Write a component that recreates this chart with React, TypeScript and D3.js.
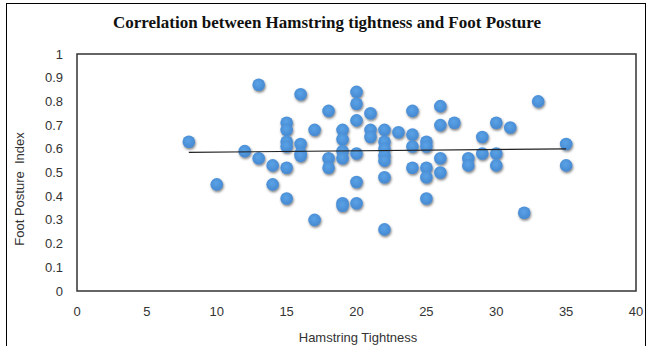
import React from "react";
import * as d3 from "d3";

const hamstring: number[] = [
  8, 10, 12, 13, 13, 14, 14,
  15, 15, 15, 15, 15, 15,
  16, 16, 16, 16,
  17, 17, 18, 18, 18,
  19, 19, 19, 19, 19, 19,
  20, 20, 20, 20, 20, 20,
  21, 21, 21,
  22, 22, 22, 22, 22, 22, 22,
  23, 24, 24, 24, 24,
  25, 25, 25, 25, 25,
  26, 26, 26, 26, 27, 28, 28, 29, 29,
  30, 30, 30, 31, 32, 33, 35, 35,
];
const footPosture: number[] = [
  0.63, 0.45, 0.59, 0.87, 0.56, 0.53, 0.45,
  0.71, 0.68, 0.63, 0.61, 0.52, 0.39,
  0.83, 0.62, 0.58, 0.57,
  0.68, 0.3, 0.76, 0.56, 0.52,
  0.68, 0.64, 0.59, 0.56, 0.37, 0.36,
  0.84, 0.79, 0.72, 0.58, 0.46, 0.37,
  0.75, 0.68, 0.65,
  0.68, 0.63, 0.6, 0.57, 0.55, 0.48, 0.26,
  0.67, 0.76, 0.66, 0.61, 0.52,
  0.63, 0.61, 0.52, 0.48, 0.39,
  0.78, 0.7, 0.56, 0.5, 0.71, 0.56, 0.53, 0.65, 0.58,
  0.71, 0.58, 0.53, 0.69, 0.33, 0.8, 0.62, 0.53,
];
const xTicks: number[] = [0, 5, 10, 15, 20, 25, 30, 35, 40];
const yTicks: number[] = [0, 0.1, 0.2, 0.3, 0.4, 0.5, 0.6, 0.7, 0.8, 0.9, 1];
const title = "Correlation between Hamstring tightness and Foot Posture";
const xTitle = "Hamstring Tightness";
const yTitle = "Foot Posture\u00a0 Index";

export default function App() {
  const W = 648, H = 346;
  const left = 77, right = 636, top = 54, bottom = 291;
  const x = d3.scaleLinear().domain([0, 40]).range([left, right]);
  const y = d3.scaleLinear().domain([0, 1]).range([bottom, top]);

  const pts = hamstring.map((h, i) => [h, footPosture[i]] as [number, number]);
  const mx = d3.mean(hamstring)!;
  const my = d3.mean(footPosture)!;
  let sxy = 0, sxx = 0;
  pts.forEach(([a, b]) => { sxy += (a - mx) * (b - my); sxx += (a - mx) * (a - mx); });
  const slope = sxy / sxx;
  const icpt = my - slope * mx;
  const [x0, x1] = d3.extent(hamstring) as [number, number];

  const font = "'Liberation Sans', Arial, sans-serif";
  const fs = 13;

  return (
    <svg width={W} height={H} style={{ position: "absolute", left: 0, top: 0, background: "#fff" }}>
      <defs>
        <filter id="shadow" x="-50%" y="-50%" width="200%" height="200%">
          <feDropShadow dx="0.8" dy="1.6" stdDeviation="1.1" floodColor="#333" floodOpacity="0.6" />
        </filter>
        <radialGradient id="gloss" cx="45%" cy="40%" r="60%">
          <stop offset="0%" stopColor="#5aa2e6" />
          <stop offset="100%" stopColor="#4689d1" />
        </radialGradient>
      </defs>
      <rect x={0} y={0} width={W} height={H} fill="#fff" />
      <rect x={6.5} y={3.5} width={639} height={360} fill="none" stroke="#000" strokeWidth={1} />
      <text x={327} y={28} textAnchor="middle" fontFamily="'Liberation Serif', 'Times New Roman', serif"
        fontWeight="bold" fontSize={17} fill="#111">{title}</text>
      <rect x={left} y={top} width={right - left} height={bottom - top} fill="none" stroke="#333" strokeWidth={1.5} />
      {yTicks.map((t) => (
        <text key={"y" + t} x={63} y={y(t) + 4.5} textAnchor="end" fontFamily={font} fontSize={fs} fill="#333">
          {d3.format("~g")(t)}
        </text>
      ))}
      {xTicks.map((t) => (
        <text key={"x" + t} x={x(t)} y={316} textAnchor="middle" fontFamily={font} fontSize={fs} fill="#333">
          {t}
        </text>
      ))}
      <text x={358} y={342} textAnchor="middle" fontFamily={font} fontSize={fs} fill="#333">{xTitle}</text>
      <text transform={`translate(24,189) rotate(-90)`} textAnchor="middle"
        fontFamily={font} fontSize={fs} fill="#333">{yTitle}</text>
      <g filter="url(#shadow)">
        {pts.map(([a, b], i) => (
          <circle key={i} cx={x(a)} cy={y(b)} r={6.3} fill="url(#gloss)" />
        ))}
      </g>
      <line x1={x(x0)} y1={y(icpt + slope * x0)} x2={x(x1)} y2={y(icpt + slope * x1)} stroke="#222" strokeWidth={1.2} />
    </svg>
  );
}
